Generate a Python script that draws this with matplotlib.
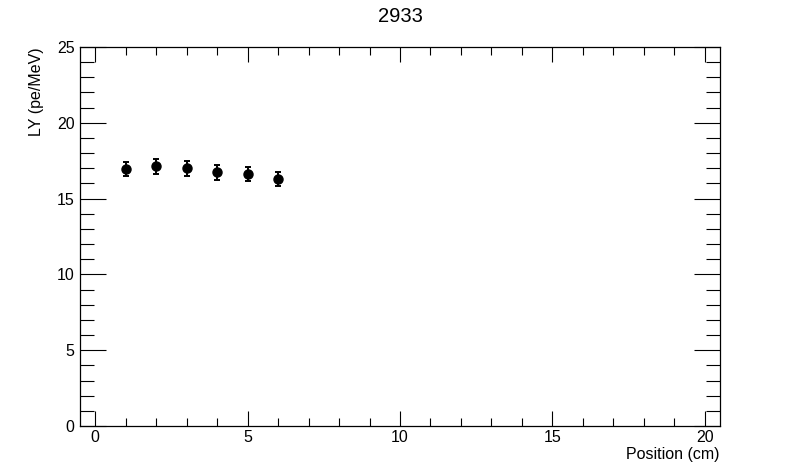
import matplotlib
matplotlib.use("Agg")
import matplotlib.pyplot as plt
from matplotlib.ticker import MultipleLocator

plt.rcParams["font.family"] = ["Liberation Sans", "DejaVu Sans"]

position = [1, 2, 3, 4, 5, 6]
ly = [16.95, 17.12, 16.99, 16.73, 16.63, 16.30]
ly_err = [0.48, 0.48, 0.47, 0.47, 0.47, 0.47]

fig = plt.figure(figsize=(8.0, 4.74), dpi=100)
ax = fig.add_axes([0.1, 0.1013, 0.8, 0.7995])

ax.errorbar(position, ly, yerr=ly_err, fmt="o", color="black", ms=6.5,
            elinewidth=1.4, capsize=2.5, capthick=1.4)

ax.set_xlim(-0.5, 20.5)
ax.set_ylim(0, 25)
ax.xaxis.set_major_locator(MultipleLocator(5))
ax.xaxis.set_minor_locator(MultipleLocator(1))
ax.yaxis.set_major_locator(MultipleLocator(5))
ax.yaxis.set_minor_locator(MultipleLocator(1))
ax.tick_params(which="both", direction="in", top=True, right=True,
               labelsize=11.5, width=0.8)
ax.tick_params(axis="y", which="major", length=19, pad=4)
ax.tick_params(axis="y", which="minor", length=10)
ax.tick_params(axis="x", which="major", length=11, pad=3)
ax.tick_params(axis="x", which="minor", length=6)
for s in ax.spines.values():
    s.set_linewidth(0.9)

ax.set_title("2933", fontsize=14.5, pad=18)
ax.set_xlabel("Position (cm)", fontsize=11.5, loc="right", labelpad=1)
ax.set_ylabel("LY (pe/MeV)", fontsize=11.5, loc="top", labelpad=9)

fig.savefig("out.png", dpi=100)
